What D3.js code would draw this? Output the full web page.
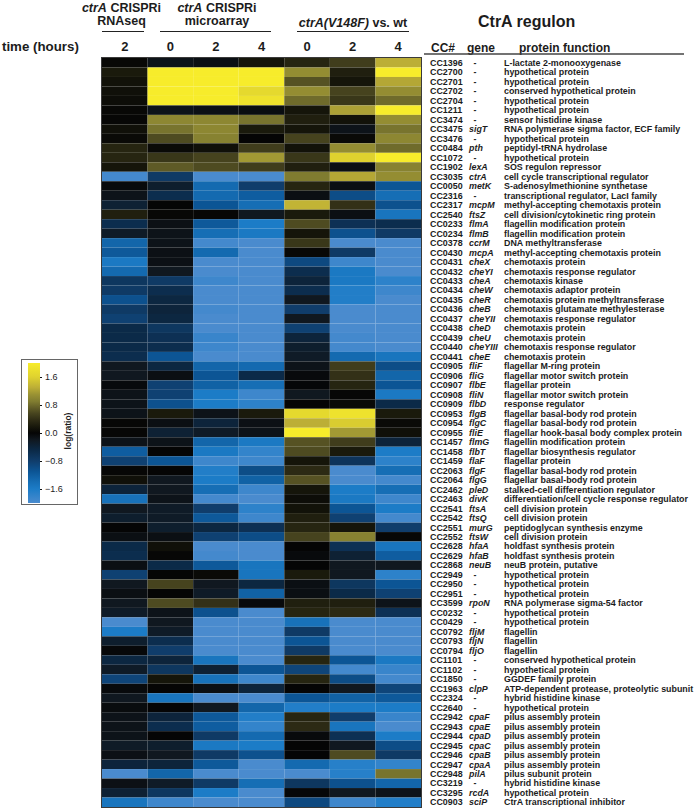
<!DOCTYPE html>
<html><head><meta charset="utf-8">
<script src="https://cdn.jsdelivr.net/npm/d3@7"></script>
<style>
html,body{margin:0;padding:0;background:#fff}
svg{display:block}
text{font-family:"Liberation Sans",Arial,sans-serif;fill:#1c1c1c}
</style></head><body><div id="c"></div>
<script>
const ccIds=["CC1396","CC2700","CC2701","CC2702","CC2704","CC1211","CC3474","CC3475","CC3476","CC0484","CC1072","CC1902","CC3035","CC0050","CC2316","CC2317","CC2540","CC0233","CC0234","CC0378","CC0430","CC0431","CC0432","CC0433","CC0434","CC0435","CC0436","CC0437","CC0438","CC0439","CC0440","CC0441","CC0905","CC0906","CC0907","CC0908","CC0909","CC0953","CC0954","CC0955","CC1457","CC1458","CC1459","CC2063","CC2064","CC2462","CC2463","CC2541","CC2542","CC2551","CC2552","CC2628","CC2629","CC2868","CC2949","CC2950","CC2951","CC3599","CC0232","CC0429","CC0792","CC0793","CC0794","CC1101","CC1102","CC1850","CC1963","CC2324","CC2640","CC2942","CC2943","CC2944","CC2945","CC2946","CC2947","CC2948","CC3219","CC3295","CC0903"];
const genes=["-","-","-","-","-","-","-","sigT","-","pth","-","lexA","ctrA","metK","-","mcpM","ftsZ","flmA","flmB","ccrM","mcpA","cheX","cheYI","cheA","cheW","cheR","cheB","cheYII","cheD","cheU","cheYIII","cheE","fliF","fliG","flbE","fliN","flbD","flgB","flgC","fliE","flmG","flbT","flaF","flgF","flgG","pleD","divK","ftsA","ftsQ","murG","ftsW","hfaA","hfaB","neuB","-","-","-","rpoN","-","-","fljM","fljN","fljO","-","-","-","clpP","-","-","cpaF","cpaE","cpaD","cpaC","cpaB","cpaA","pilA","-","rcdA","sciP"];
const HP="hypothetical protein",CH="chemotaxis protein",CR="chemotaxis response regulator",BB="flagellar basal-body rod protein",PA="pilus assembly protein";
const functions=["L-lactate 2-monooxygenase",HP,HP,"conserved hypothetical protein",HP,HP,"sensor histidine kinase","RNA polymerase sigma factor, ECF family",HP,"peptidyl-tRNA hydrolase",HP,"SOS regulon repressor","cell cycle transcriptional regulator","S-adenosylmethionine synthetase","transcriptional regulator, LacI family","methyl-accepting chemotaxis protein","cell division/cytokinetic ring protein","flagellin modification protein","flagellin modification protein","DNA methyltransferase","methyl-accepting chemotaxis protein",CH,CR,"chemotaxis kinase","chemotaxis adaptor protein","chemotaxis protein methyltransferase","chemotaxis glutamate methylesterase",CR,CH,CH,CR,CH,"flagellar M-ring protein","flagellar motor switch protein","flagellar protein","flagellar motor switch protein","response regulator",BB,BB,"flagellar hook-basal body complex protein","flagellin modification protein","flagellar biosynthesis regulator","flagellar protein",BB,BB,"stalked-cell differentiation regulator","differentiation/cell cycle response regulator","cell division protein","cell division protein","peptidoglycan synthesis enzyme","cell division protein","holdfast synthesis protein","holdfast synthesis protein","neuB protein, putative",HP,HP,HP,"RNA polymerase sigma-54 factor",HP,HP,"flagellin","flagellin","flagellin","conserved hypothetical protein",HP,"GGDEF family protein","ATP-dependent protease, proteolytic subunit","hybrid histidine kinase",HP,PA,PA,PA,PA,PA,PA,"pilus subunit protein","hybrid histidine kinase",HP,"CtrA transcriptional inhibitor"];
const timeLabels=["2","0","2","4","0","2","4"];
const values=[
[0.03,-0.15,-0.1,0.15,0.3,0.5,1.3],
[0.2,2,2,2,1.05,0.25,2],
[0.12,2,2,2,0.65,0.15,1.25],
[0.1,2,2,1.7,1.05,0.55,1.05],
[0.08,2,2,1.85,0.8,0.45,0.8],
[0.03,-0.15,-0.12,-0.08,0.15,1.2,2],
[0.02,1.0,1.0,0.85,0.25,0.12,1.05],
[0.1,0.85,1.0,0.2,0.15,-0.15,0.85],
[0.05,0.6,0.95,0,0.55,0.05,1.0],
[0.3,0.05,0.1,0.5,0.12,1.05,0.8],
[0.3,0.45,0.55,1.15,0.45,1.6,2],
[0.15,0.7,0.6,0.5,0.25,-0.1,0.95],
[-1.95,-0.75,-2,-2,0.9,1.25,1.05],
[-0.05,-0.3,-1.35,-0.8,0.3,-0.1,-1.1],
[-0.15,-0.55,-1.35,-1.2,-0.1,-1.0,-1.4],
[-0.35,0,-1.1,-1.4,1.35,0.4,-1.05],
[0.25,0.03,0.02,-0.2,0.2,-0.1,-1.5],
[-0.55,-0.12,-1.15,-1.6,0.6,-0.6,-0.55],
[-0.25,-0.15,-1.4,-1.55,0.15,-1.05,-0.75],
[-1.3,-0.15,-1.95,-2,0.45,-2,-2],
[-1.15,-0.12,-1.35,-2,0.03,-0.75,-2],
[-1.55,-0.12,-2,-2,-0.95,-1.9,-2],
[-1.35,-0.2,-2,-2,-0.55,-1.55,-2],
[-0.7,-0.75,-1.9,-2,-0.4,-1.55,-1.75],
[-0.75,-0.55,-2,-2,-0.55,-1.65,-1.9],
[-1.05,-0.45,-2,-2,-0.2,-1.65,-2],
[-0.75,-0.4,-1.95,-2,-0.8,-2,-2],
[-0.85,-0.45,-2,-2,-0.2,-2,-2],
[-0.5,-0.7,-2,-2,-0.85,-2,-2],
[-0.5,-0.6,-1.85,-2,-0.4,-1.95,-2],
[-0.5,-0.55,-1.9,-2,-0.3,-1.95,-2],
[-0.55,-1.1,-2,-2,-0.25,-1.35,-1.5],
[-0.2,-0.45,-1.3,-1.35,-0.15,0.5,-1.0],
[-0.2,-0.1,-1.1,-0.5,-0.05,0.4,-1.3],
[-0.05,-0.85,-1.25,-1.4,-0.02,0.3,-1.1],
[-0.15,-0.85,-1.6,-1.9,-0.2,0.02,-1.55],
[-0.15,-1.05,-1.6,-1.75,0,0.05,-0.5],
[-0.15,0.2,-0.15,0.2,1.7,1.85,0.2],
[0.02,-0.1,-0.4,-0.12,1.3,1.55,0.05],
[0.02,-0.35,-0.25,-0.15,2,1.15,0.1],
[-0.15,-0.15,-1.3,-1.55,0.65,0.5,-0.4],
[-1.2,0,-1.55,-1.8,0.6,0.2,-1.6],
[-0.85,-1.1,-1.9,-1.9,0.15,-0.65,-1.75],
[0.02,0,-1.65,-1.0,0.35,-2,-1.4],
[0.1,-0.2,-1.6,-1.25,0.65,-2,-1.95],
[-0.4,-0.2,-1.4,-1.9,0.15,-1.6,-1.4],
[-1.45,-0.15,-1.95,-2,0.08,-1.55,-1.9],
[-0.2,-0.25,-0.8,-1.75,0.12,-1.1,-1.6],
[-0.3,-0.25,-1.15,-1.9,0.25,-0.85,-1.95],
[0,-0.3,-0.45,-0.6,0.3,0.15,-0.8],
[-0.1,-0.1,-0.85,-1.0,0.55,0.95,0.02],
[-0.5,0.1,-2,-2,0,-0.6,-1.5],
[-0.55,0.02,-1.95,-2,-0.05,-0.35,-1.2],
[-0.1,-0.5,-1.15,-1.5,0,-0.2,-0.2],
[-0.85,0,0.05,-1.5,0.2,-0.2,-1.75],
[-0.2,0.55,-0.2,-0.45,-0.1,-0.7,-1.1],
[-0.1,0,-0.25,-1.25,-0.1,-0.5,-0.85],
[-0.2,0.6,0.4,-0.05,0.25,0.25,-0.15],
[-0.25,-0.15,-1.05,-2,0.3,0.35,-0.6],
[-2,-0.2,-2,-2,-1.45,-2,-2],
[-1.6,-0.25,-2,-2,-0.75,-2,-2],
[-0.3,-0.55,-2,-2,-1.1,-2,-2],
[-0.03,-0.8,-2,-2,-0.75,-2,-2],
[-0.45,-0.4,-1.5,-2,0.3,-1.1,-1.55],
[-0.25,-0.7,-0.35,-1.1,-0.9,-1.95,-1.85],
[-0.9,0.15,-1.45,-1.9,0.3,-1.0,-1.95],
[-0.05,0,-0.1,-0.4,0,-0.2,-0.9],
[-0.2,-1.5,-2,-2,-1.1,-1.25,-1.15],
[-0.07,0,-0.2,-1.3,-1.65,-1.6,-1.6],
[-0.15,-0.4,-1.15,-1.65,0.3,-0.8,-1.85],
[-0.15,-0.55,-1.2,-1.8,0.35,-1.5,-2],
[-0.15,0,-0.75,-1.35,-0.05,-0.6,-1.6],
[-0.25,-0.3,-1.55,-1.6,0,-0.2,-1.0],
[-0.12,-0.2,-0.75,-1.05,0,0.6,-0.75],
[-0.4,-0.4,-1.15,-2,-1.35,-1.7,-1.8],
[-2,-1.3,-2,-2,-2,-1.7,0.85],
[-0.12,-0.25,-0.75,-1.4,-0.7,-1.05,-1.3],
[-0.35,-0.7,-1.6,-2,-0.02,-0.2,-0.15],
[-1.5,-1.9,-2,-2,-0.95,-1.9,-1.65]
];
const colorStops=[-2,-1.6,-1.4,-1.1,-0.8,-0.5,-0.2,0,0.2,0.35,0.55,0.7,0.9,1.1,1.3,1.6,2];
const colorHex=["#4a8bce","#1c7cc7","#166eb5","#0c5595","#103d6b","#0b2a48","#101820","#050505","#1a1a0c","#2c2a14","#46431e","#5e5a26","#807c30","#9a9233","#bcae36","#dfd22f","#f7ec2b"];
const legendTicks=[1.6,0.8,0,-0.8,-1.6];

const color=d3.scaleLinear().domain(colorStops).range(colorHex).clamp(true);
const svg=d3.select("#c").append("svg").attr("width",696).attr("height",809);
const x=d3.scaleBand().domain(d3.range(7)).range([102,421]);
const y=d3.scaleBand().domain(ccIds).range([58,807]);

// heatmap
const heat=svg.append("g");
values.forEach((row,i)=>{
  heat.selectAll(null).data(row).join("rect")
    .attr("x",(d,j)=>x(j)).attr("y",y(ccIds[i]))
    .attr("width",x.bandwidth()).attr("height",y.bandwidth())
    .attr("fill",d=>color(d));
});
svg.append("rect").attr("x",101.5).attr("y",57.5).attr("width",320).attr("height",750)
  .attr("fill","none").attr("stroke","#3a3a3a").attr("stroke-width",1);

// column headers
svg.selectAll(".t").data(timeLabels).join("text").attr("class","t")
  .attr("x",(d,j)=>x(j)+x.bandwidth()/2).attr("y",51)
  .attr("text-anchor","middle").attr("font-size",13).attr("font-weight","bold").text(d=>d);
svg.append("text").attr("x",2).attr("y",51).attr("font-size",13.3).attr("font-weight","bold").text("time (hours)");

function head(cx,yy,parts,size){
  const t=svg.append("text").attr("x",cx).attr("y",yy).attr("text-anchor","middle")
    .attr("font-size",size||12.5).attr("font-weight","bold");
  parts.forEach(p=>t.append("tspan").attr("font-style",p[1]?"italic":"normal").text(p[0]));
}
head(121.5,12,[["ctrA",1],[" CRISPRi",0]]);
head(121.5,25,[["RNAseq",0]]);
head(217,12,[["ctrA",1],[" CRISPRi",0]]);
head(217,25,[["microarray",0]]);
head(353,27,[["ctrA(V148F)",1],[" vs. wt",0]]);
[[102,144],[160,271],[297,409]].forEach(r=>svg.append("line").attr("x1",r[0]).attr("x2",r[1])
  .attr("y1",31.5).attr("y2",31.5).attr("stroke","#222").attr("stroke-width",1.2));

// regulon header
svg.append("text").attr("x",478).attr("y",27).attr("font-size",16).attr("font-weight","bold").text("CtrA regulon");
[["CC#",431],["gene",467],["protein function",519]].forEach(h=>svg.append("text").attr("x",h[1]).attr("y",52)
  .attr("font-size",12).attr("font-weight","bold").text(h[0]));
svg.append("line").attr("x1",424).attr("x2",684).attr("y1",54).attr("y2",54).attr("stroke","#444").attr("stroke-width",1.5);

// row labels
const lab=svg.append("g").attr("font-size",8.9).attr("font-weight","bold");
ccIds.forEach((id,i)=>{
  const ty=y(id)+y.bandwidth()/2+3.2;
  lab.append("text").attr("x",430).attr("y",ty).text(id);
  const g=genes[i];
  if(g==="-") lab.append("text").attr("x",475).attr("y",ty).attr("text-anchor","middle").text("-");
  else lab.append("text").attr("x",469).attr("y",ty).attr("font-style","italic").text(g);
  lab.append("text").attr("x",504).attr("y",ty).text(functions[i]);
});

// legend
svg.append("rect").attr("x",21.5).attr("y",359.5).attr("width",56).attr("height",145)
  .attr("fill","#fff").attr("stroke","#666").attr("stroke-width",1);
const ly=d3.scaleLinear().domain([-2,2]).range([503,363]);
const grad=svg.append("defs").append("linearGradient").attr("id","lg")
  .attr("x1",0).attr("x2",0).attr("y1",1).attr("y2",0);
colorStops.forEach((s,i)=>grad.append("stop").attr("offset",(s+2)/4).attr("stop-color",colorHex[i]));
svg.append("rect").attr("x",28).attr("y",363).attr("width",12).attr("height",140).attr("fill","url(#lg)");
const ax=svg.append("g").attr("transform","translate(40,0)")
  .call(d3.axisRight(ly).tickValues(legendTicks).tickSize(2).tickPadding(3).tickFormat(d3.format(".1f")));
ax.select(".domain").remove();
ax.selectAll("line").attr("stroke","#111").attr("stroke-width",1.2);
ax.selectAll("text").attr("font-size",9).attr("font-family",'"Liberation Sans",Arial,sans-serif').attr("fill","#333");
svg.append("text").attr("transform","translate(71,431) rotate(-90)").attr("text-anchor","middle")
  .attr("font-size",8.5).attr("font-weight","bold").text("log(ratio)");
</script></body></html>
